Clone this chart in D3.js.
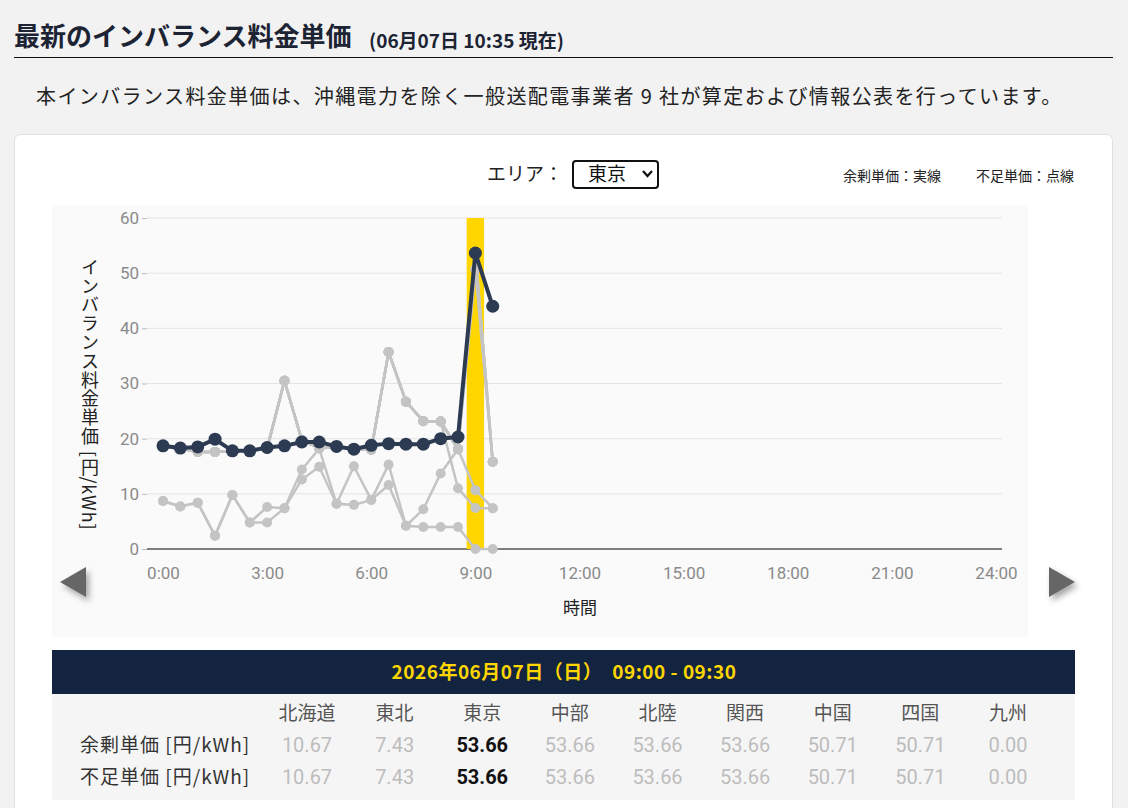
<!DOCTYPE html>
<html lang="ja">
<head>
<meta charset="utf-8">
<script src="https://cdn.jsdelivr.net/npm/d3@7"></script>
<style>
  html, body { margin: 0; padding: 0; background: #f2f2f2; }
  body { width: 1128px; height: 808px; overflow: hidden; font-family: "Noto Sans CJK JP", "Noto Sans", sans-serif; }
  svg text { font-family: "Noto Sans CJK JP", "Noto Sans", sans-serif; }
  .num { font-family: Roboto, "Noto Sans", sans-serif; }
</style>
</head>
<body>
<div id="chart"></div>
<script>
/**
 * CONSTANTS AND GLOBALS
 * */
const width = 1128,
  height = 808,
  plot = { left: 147, right: 1002, top: 218, bottom: 549 },
  darkColor = "#2c3a52",
  grayColor = "#c4c4c4",
  bandColor = "#ffd600";

// DATA
const areas = ["北海道", "東北", "東京", "中部", "北陸", "関西", "中国", "四国", "九州"];
const slotHours = [0, 0.5, 1, 1.5, 2, 2.5, 3, 3.5, 4, 4.5, 5, 5.5, 6, 6.5, 7, 7.5, 8, 8.5, 9, 9.5];
const xTicks = [0, 3, 6, 9, 12, 15, 18, 21, 24];
const yTicks = [0, 10, 20, 30, 40, 50, 60];
const selectedHour = 9;

const tokyo    = [18.7, 18.3, 18.5, 19.9, 17.8, 17.8, 18.4, 18.7, 19.4, 19.4, 18.6, 18.1, 18.8, 19.1, 19.0, 19.0, 20.0, 20.3, 53.66, 44.0];
const hokkaido = [8.7, 7.7, 8.4, 2.4, 9.8, 4.8, 7.6, 7.4, 14.4, 18.2, 8.2, 15.0, 8.9, 15.3, 4.2, 7.2, 13.7, 18.1, 10.67, 7.4];
const tohoku   = [18.5, 18.2, 17.6, 17.6, 17.8, 17.8, 18.2, 30.5, 19.7, 18.3, 18.4, 18.0, 18.0, 35.7, 26.7, 23.1, 23.1, 11.0, 7.43, 7.4];
const chubu    = [18.5, 18.2, 17.6, 17.6, 17.8, 17.8, 18.2, 30.5, 19.7, 18.3, 18.4, 18.0, 18.0, 35.7, 26.7, 23.2, 23.1, 18.1, 53.66, 15.8];
const hokuriku = [18.5, 18.2, 17.6, 17.6, 17.8, 17.8, 18.2, 30.5, 19.7, 18.3, 18.4, 18.0, 18.0, 35.7, 26.7, 23.2, 23.1, 18.1, 53.66, 15.8];
const kansai   = [18.5, 18.2, 17.6, 17.6, 17.8, 17.8, 18.2, 30.5, 19.7, 18.3, 18.4, 18.0, 18.0, 35.7, 26.7, 23.2, 23.1, 18.1, 53.66, 15.8];
const chugoku  = [18.5, 18.2, 17.6, 17.6, 17.8, 17.8, 18.2, 30.5, 19.7, 18.3, 18.4, 18.0, 18.0, 35.7, 26.7, 23.2, 23.1, 18.1, 50.71, 15.8];
const shikoku  = [18.5, 18.2, 17.6, 17.6, 17.8, 17.8, 18.2, 30.5, 19.7, 18.3, 18.4, 18.0, 18.0, 35.7, 26.7, 23.2, 23.1, 18.1, 50.71, 15.8];
const kyushu   = [8.7, 7.7, 8.4, 2.4, 9.8, 4.8, 4.8, 7.4, 12.6, 14.9, 8.2, 8.0, 8.9, 11.6, 4.2, 4.0, 4.0, 4.0, 0.0, 0.0];

const surplusPrices  = [10.67, 7.43, 53.66, 53.66, 53.66, 53.66, 50.71, 50.71, 0.00];
const shortagePrices = [10.67, 7.43, 53.66, 53.66, 53.66, 53.66, 50.71, 50.71, 0.00];

const grayAreas = [hokkaido, tohoku, chubu, hokuriku, kansai, chugoku, shikoku, kyushu];

/**
 * DRAW
 * */
const svg = d3.select("#chart")
  .append("svg")
  .attr("width", width)
  .attr("height", height)
  .attr("viewBox", [0, 0, width, height]);

const defs = svg.append("defs");
const shadow = defs.append("filter").attr("id", "shadow")
  .attr("x", "-50%").attr("y", "-50%").attr("width", "200%").attr("height", "200%");
shadow.append("feDropShadow").attr("dx", 3).attr("dy", 4).attr("stdDeviation", 3)
  .attr("flood-color", "#000").attr("flood-opacity", 0.35);

// header
svg.append("text")
  .attr("x", 14).attr("y", 46)
  .attr("font-size", 26).attr("font-weight", 700).attr("fill", "#1c2333")
  .text("最新のインバランス料金単価");
svg.append("text")
  .attr("x", 369).attr("y", 48)
  .attr("font-size", 19).attr("font-weight", 700).attr("fill", "#1c2333")
  .text("(06月07日 10:35 現在)");
svg.append("line")
  .attr("x1", 14).attr("x2", 1113).attr("y1", 57.5).attr("y2", 57.5)
  .attr("stroke", "#111").attr("stroke-width", 1);
svg.append("text")
  .attr("x", 36).attr("y", 104)
  .attr("font-size", 20).attr("letter-spacing", 1.4).attr("fill", "#222")
  .text("本インバランス料金単価は、沖縄電力を除く一般送配電事業者 9 社が算定および情報公表を行っています。");

// card
svg.append("rect")
  .attr("x", 14.5).attr("y", 134.5).attr("width", 1098).attr("height", 700)
  .attr("rx", 6).attr("fill", "#fff").attr("stroke", "#e0e0e0");

// area selector + legend
svg.append("text")
  .attr("x", 487).attr("y", 181)
  .attr("font-size", 19).attr("fill", "#222")
  .text("エリア：");
svg.append("rect")
  .attr("x", 573).attr("y", 161).attr("width", 85).attr("height", 27)
  .attr("rx", 3).attr("fill", "#fff").attr("stroke", "#111").attr("stroke-width", 2);
svg.append("text")
  .attr("x", 588).attr("y", 181)
  .attr("font-size", 19).attr("fill", "#111")
  .text("東京");
svg.append("path")
  .attr("d", "M643,171 L647.5,176 L652,171")
  .attr("fill", "none").attr("stroke", "#111").attr("stroke-width", 2.2);
svg.append("text")
  .attr("x", 843).attr("y", 181)
  .attr("font-size", 14).attr("fill", "#222")
  .text("余剰単価：実線");
svg.append("text")
  .attr("x", 976).attr("y", 181)
  .attr("font-size", 14).attr("fill", "#222")
  .text("不足単価：点線");

// chart panel
svg.append("rect")
  .attr("x", 52).attr("y", 205).attr("width", 976).attr("height", 432)
  .attr("fill", "#fafafa");

// scales
const x = d3.scaleLinear()
  .domain([0, 24])
  .range([163, 996]);
const y = d3.scaleLinear()
  .domain([0, 60])
  .range([plot.bottom, plot.top]);

// grid
svg.append("g")
  .selectAll("line")
  .data(yTicks.filter(d => d > 0))
  .join("line")
  .attr("x1", plot.left).attr("x2", plot.right)
  .attr("y1", d => y(d)).attr("y2", d => y(d))
  .attr("stroke", "#e4e4e4").attr("stroke-width", 1);

// y axis
const yAxis = g => g
  .attr("transform", `translate(${plot.left},0)`)
  .call(d3.axisLeft(y).tickValues(yTicks).tickSize(5).tickPadding(3))
  .call(g => g.select(".domain").remove())
  .call(g => g.selectAll(".tick line").attr("stroke", "#bbb"))
  .call(g => g.selectAll(".tick text")
    .attr("class", "num").attr("font-size", 17).attr("fill", "#8a8a8a"));
svg.append("g").call(yAxis);

// x axis
const xAxis = g => g
  .attr("transform", `translate(0,${plot.bottom})`)
  .call(d3.axisBottom(x).tickValues(xTicks).tickSize(0).tickPadding(18)
    .tickFormat(d => `${d}:00`))
  .call(g => g.select(".domain").remove())
  .call(g => g.selectAll(".tick text")
    .attr("class", "num").attr("font-size", 17).attr("fill", "#8a8a8a"));
svg.append("g").call(xAxis);

svg.append("line")
  .attr("x1", plot.left).attr("x2", plot.right)
  .attr("y1", y(0)).attr("y2", y(0))
  .attr("stroke", "#555").attr("stroke-width", 1.5);

// axis titles
svg.append("text")
  .attr("x", 580).attr("y", 614)
  .attr("text-anchor", "middle")
  .attr("font-size", 17).attr("fill", "#222")
  .text("時間");
svg.append("text")
  .attr("x", 90).attr("y", 258)
  .attr("font-size", 18).attr("letter-spacing", 0.8).attr("fill", "#222")
  .style("writing-mode", "vertical-rl")
  .text("インバランス料金単価 [円/kWh]");

// selected slot band
const slotWidth = x(0.5) - x(0);
svg.append("rect")
  .attr("x", x(selectedHour) - slotWidth / 2)
  .attr("y", plot.top)
  .attr("width", slotWidth)
  .attr("height", plot.bottom - plot.top)
  .attr("fill", bandColor);

// lines
const line = d3.line()
  .x((d, i) => x(slotHours[i]))
  .y(d => y(d));

const grays = svg.append("g");
grays.selectAll("path")
  .data(grayAreas)
  .join("path")
  .attr("d", line)
  .attr("fill", "none")
  .attr("stroke", grayColor)
  .attr("stroke-width", 2.5);
grays.selectAll("g")
  .data(grayAreas)
  .join("g")
  .selectAll("circle")
  .data(d => d)
  .join("circle")
  .attr("cx", (d, i) => x(slotHours[i]))
  .attr("cy", d => y(d))
  .attr("r", 5)
  .attr("fill", grayColor);

svg.append("path")
  .datum(tokyo)
  .attr("d", line)
  .attr("fill", "none")
  .attr("stroke", darkColor)
  .attr("stroke-width", 4);
svg.append("g")
  .selectAll("circle")
  .data(tokyo)
  .join("circle")
  .attr("cx", (d, i) => x(slotHours[i]))
  .attr("cy", d => y(d))
  .attr("r", 6.5)
  .attr("fill", darkColor);

// nav arrows
svg.append("path")
  .attr("d", "M60,582 L86,567 L86,597 Z")
  .attr("fill", "#666").attr("filter", "url(#shadow)");
svg.append("path")
  .attr("d", "M1075,582 L1049,567 L1049,597 Z")
  .attr("fill", "#666").attr("filter", "url(#shadow)");

// table
svg.append("rect")
  .attr("x", 52).attr("y", 650).attr("width", 1023).attr("height", 44)
  .attr("fill", "#12243f");
svg.append("text")
  .attr("x", 564).attr("y", 679)
  .attr("text-anchor", "middle")
  .attr("font-size", 19).attr("letter-spacing", 0.5).attr("font-weight", 700).attr("fill", "#ffd600")
  .text("2026年06月07日（日）　09:00 - 09:30");
svg.append("rect")
  .attr("x", 52).attr("y", 694).attr("width", 1023).attr("height", 106)
  .attr("fill", "#f5f5f5");

const col = d3.scalePoint()
  .domain(areas)
  .range([307, 1008]);

svg.append("g")
  .selectAll("text")
  .data(areas)
  .join("text")
  .attr("x", d => col(d))
  .attr("y", 720)
  .attr("text-anchor", "middle")
  .attr("font-size", 19).attr("fill", "#555")
  .text(d => d);

const rows = [
  { label: "余剰単価 [円/kWh]", values: surplusPrices, y: 752 },
  { label: "不足単価 [円/kWh]", values: shortagePrices, y: 784 }
];
rows.forEach(r => {
  svg.append("text")
    .attr("x", 80).attr("y", r.y)
    .attr("font-size", 19).attr("letter-spacing", 1).attr("fill", "#333")
    .text(r.label);
  svg.append("g")
    .selectAll("text")
    .data(r.values)
    .join("text")
    .attr("class", "num")
    .attr("x", (d, i) => col(areas[i]))
    .attr("y", r.y)
    .attr("text-anchor", "middle")
    .attr("font-size", 20)
    .attr("font-weight", (d, i) => areas[i] === "東京" ? 700 : 400)
    .attr("fill", (d, i) => areas[i] === "東京" ? "#111" : "#bdbdbd")
    .text(d => d.toFixed(2));
});
</script>
</body>
</html>
